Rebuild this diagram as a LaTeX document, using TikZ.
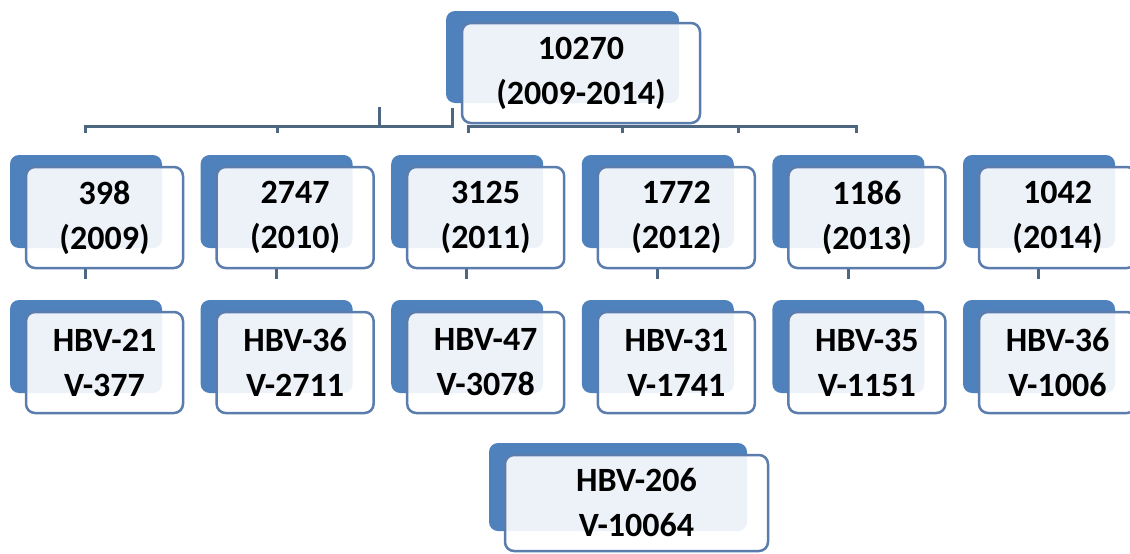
\documentclass[tikz,border=0pt]{standalone}
\usepackage{fontspec}
\setmainfont{Carlito}
\usetikzlibrary{calc}
\definecolor{backblue}{HTML}{4F81BD}
\definecolor{edgeblue}{HTML}{5A7DAE}
\definecolor{linecol}{HTML}{4E6781}
\tikzset{
  backcard/.style={fill=backblue, rounded corners=9pt},
  frontcard/.style={rectangle, draw=edgeblue, line width=2.5pt, fill=white, fill opacity=0.9,
    text opacity=1, rounded corners=9pt, inner sep=0pt, align=center,
    font=\bfseries\fontsize{34}{45}\selectfont},
  conn/.style={draw=linecol, line width=3pt}
}
\newcommand\mkcard[6]{%
  \fill[backcard] ({#2-#4/2-16},{#3-#5/2-12}) rectangle ({#2+#4/2-21},{#3+#5/2-20});
  \node[frontcard, minimum width=#4pt, minimum height=#5pt] (#1) at (#2,#3) {#6};
}
\begin{document}
\begin{tikzpicture}[x=1pt,y=-1pt]
\useasboundingbox (0,0) rectangle (1130,554);
\clip (0,0) rectangle (1130,554);
% level-1 connectors
\coordinate (jl) at (85,133);
\coordinate (jm) at (452,108);
\coordinate (jn) at (468,133);
\coordinate (jr) at (856,133);
\draw[conn] (jl) -- (85,126) -- (452,126) -- (jm);
\draw[conn] (379,126) -- (379,107);
\draw[conn] (277,126) -- (277,133);
\draw[conn] (jn) -- (468,126) -- (856,126) -- (jr);
\draw[conn] (622,126) -- (622,133);
\draw[conn] (738,126) -- (738,133);
% top card
\mkcard{top}{581}{73}{238}{100}{10270\\(2009-2014)}
% level 2
\mkcard{a1}{104.5}{217.5}{157}{101}{398\\(2009)}
\mkcard{a2}{295.1}{217.5}{157}{101}{2747\\(2010)}
\mkcard{a3}{485.7}{217.5}{157}{101}{3125\\(2011)}
\mkcard{a4}{676.3}{217.5}{157}{101}{1772\\(2012)}
\mkcard{a5}{866.9}{217.5}{157}{101}{1186\\(2013)}
\mkcard{a6}{1057.5}{217.5}{157}{101}{1042\\(2014)}
% stubs
\foreach \n in {a1,a2,a3,a4,a5,a6}{
  \draw[conn] ($(\n.south west)+(61,0)$) -- ++(0,10);
}
% level 3
\mkcard{b1}{104.5}{362.5}{157}{101}{HBV-21\\V-377}
\mkcard{b2}{295.1}{362.5}{157}{101}{HBV-36\\V-2711}
\mkcard{b3}{485.7}{362.5}{157}{101}{HBV-47\\V-3078}
\mkcard{b4}{676.3}{362.5}{157}{101}{HBV-31\\V-1741}
\mkcard{b5}{866.9}{362.5}{157}{101}{HBV-35\\V-1151}
\mkcard{b6}{1057.5}{362.5}{157}{101}{HBV-36\\V-1006}
% total
\mkcard{total}{636.5}{503}{263}{96}{HBV-206\\V-10064}
\end{tikzpicture}
\end{document}
